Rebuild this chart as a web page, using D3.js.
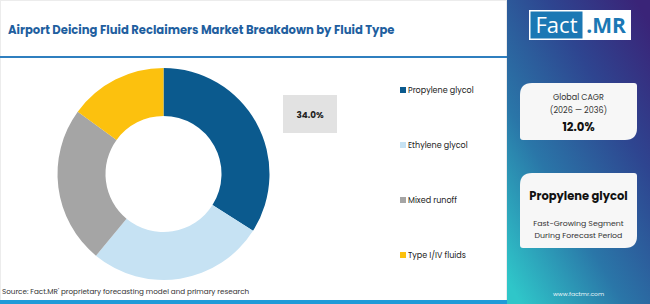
<!DOCTYPE html>
<html><head><meta charset="utf-8">
<script src="https://cdn.jsdelivr.net/npm/d3@7"></script>
<style>html,body{margin:0;padding:0;background:#fff;}svg{display:block;}</style>
</head><body>
<svg id="c" width="650" height="304"></svg>
<script>
const categories = ["Propylene glycol", "Ethylene glycol", "Mixed runoff", "Type I/IV fluids"];
const values = [34, 27, 24, 15];
const colors = ["#0b5a8e", "#c6e2f3", "#a5a5a5", "#fcc10e"];
const title = "Airport Deicing Fluid Reclaimers Market Breakdown by Fluid Type";
const source = "Source: Fact.MR' proprietary forecasting model and primary research";
const cagrLabel = ["Global CAGR", "(2026 \u2014 2036)"];
const cagrValue = "12.0%";
const segment = "Propylene glycol";
const segmentNote = ["Fast-Growing Segment", "During Forecast Period"];

const svg = d3.select("#c");
const font = "Poppins, 'Open Sans', 'Noto Sans', sans-serif";

// left frame
svg.append("rect").attr("x",0.5).attr("y",0.5).attr("width",506).attr("height",303).attr("fill","#fff").attr("stroke","#ececec");
svg.append("text").attr("x",8).attr("y",34).attr("font-family",font).attr("font-weight",700)
  .attr("font-size",11.6).attr("fill","#1f5f9f").text(title);
svg.append("rect").attr("x",0).attr("y",56).attr("width",507).attr("height",2).attr("fill","#2f7fbf");
svg.append("rect").attr("x",0).attr("y",300).attr("width",507).attr("height",4).attr("fill","#1f9bd8");
svg.append("text").attr("x",2).attr("y",294).attr("font-family",font).attr("font-size",7.2)
  .attr("fill","#333").text(source);

// donut
const cx = 163.5, cy = 174, rOuter = 106, rInner = 58;
const pie = d3.pie().sort(null).value(d => d)(values);
const arc = d3.arc().innerRadius(rInner).outerRadius(rOuter);
const g = svg.append("g").attr("transform", `translate(${cx},${cy})`);
g.selectAll("path").data(pie).join("path").attr("d", arc).attr("fill", (d,i) => colors[i]);

// value label box
const pct = d3.format(".1f")(values[0]) + "%";
svg.append("rect").attr("x",283).attr("y",95).attr("width",54).attr("height",38).attr("fill","#e2e2e2");
svg.append("text").attr("x",310).attr("y",117.5).attr("text-anchor","middle").attr("font-family",font)
  .attr("font-weight",700).attr("font-size",8.8).attr("fill","#222").text(pct);

// legend
const ly = d3.scalePoint().domain(categories).range([90, 255]);
const lg = svg.append("g").selectAll("g").data(categories).join("g")
  .attr("transform", d => `translate(400,${ly(d)})`);
lg.append("rect").attr("x",0).attr("y",-3).attr("width",6).attr("height",6).attr("fill",(d,i)=>colors[i]);
lg.append("text").attr("x",8).attr("y",3).attr("font-family",font).attr("font-size",8).attr("fill","#222").text(d=>d);

// right panel
const defs = svg.append("defs");
const grad = defs.append("linearGradient").attr("id","pg").attr("x1","0.9").attr("y1","0").attr("x2","0.1").attr("y2","1");
grad.append("stop").attr("offset","0").attr("stop-color","#3a2478");
grad.append("stop").attr("offset","0.3").attr("stop-color","#2e4590");
grad.append("stop").attr("offset","0.65").attr("stop-color","#2a76a8");
grad.append("stop").attr("offset","1").attr("stop-color","#2fc6c9");
svg.append("rect").attr("x",507).attr("y",0).attr("width",143).attr("height",304).attr("fill","url(#pg)");

// logo
svg.append("rect").attr("x",529).attr("y",10).attr("width",102).attr("height",30).attr("fill","#fff");
svg.append("rect").attr("x",530.5).attr("y",11.5).attr("width",52).attr("height",27).attr("fill","#1b78b4");
svg.append("text").attr("x",556.5).attr("y",33).attr("text-anchor","middle").attr("font-family","'Open Sans', sans-serif")
  .attr("font-size",22).attr("fill","#fff").text("Fact");
svg.append("text").attr("x",606).attr("y",33).attr("text-anchor","middle").attr("font-family","'Open Sans', sans-serif")
  .attr("font-weight",700).attr("font-size",21).attr("fill","#1b78b4").text(".MR");

function card(x,y,w,h){
  const a=12,b=3;
  return `M${x+a},${y} H${x+w-b} Q${x+w},${y} ${x+w},${y+b} V${y+h-a} Q${x+w},${y+h} ${x+w-a},${y+h} H${x+b} Q${x},${y+h} ${x},${y+h-b} V${y+a} Q${x},${y} ${x+a},${y} Z`;
}
svg.append("path").attr("d",card(520,83,117,57)).attr("fill","#f7f7f7");
svg.append("text").attr("x",578.5).attr("y",100).attr("text-anchor","middle").attr("font-family",font)
  .attr("font-size",8).attr("fill","#333").text(cagrLabel[0]);
svg.append("text").attr("x",578.5).attr("y",113).attr("text-anchor","middle").attr("font-family",font)
  .attr("font-size",8).attr("fill","#333").text(cagrLabel[1]);
svg.append("text").attr("x",578.5).attr("y",131).attr("text-anchor","middle").attr("font-family",font)
  .attr("font-weight",700).attr("font-size",11.7).attr("fill","#111").text(cagrValue);

svg.append("path").attr("d",card(520,173,117,75)).attr("fill","#f7f7f7");
svg.append("text").attr("x",578.5).attr("y",200).attr("text-anchor","middle").attr("font-family",font)
  .attr("font-weight",700).attr("font-size",11.5).attr("fill","#111").text(segment);
svg.append("text").attr("x",578.5).attr("y",225.5).attr("text-anchor","middle").attr("font-family",font)
  .attr("font-size",7.8).attr("fill","#333").text(segmentNote[0]);
svg.append("text").attr("x",578.5).attr("y",237.5).attr("text-anchor","middle").attr("font-family",font)
  .attr("font-size",7.8).attr("fill","#333").text(segmentNote[1]);

svg.append("text").attr("x",578.5).attr("y",296).attr("text-anchor","middle").attr("font-family",font)
  .attr("font-size",6).attr("fill","#e8f4f8").text("www.factmr.com");
</script>
</body></html>
